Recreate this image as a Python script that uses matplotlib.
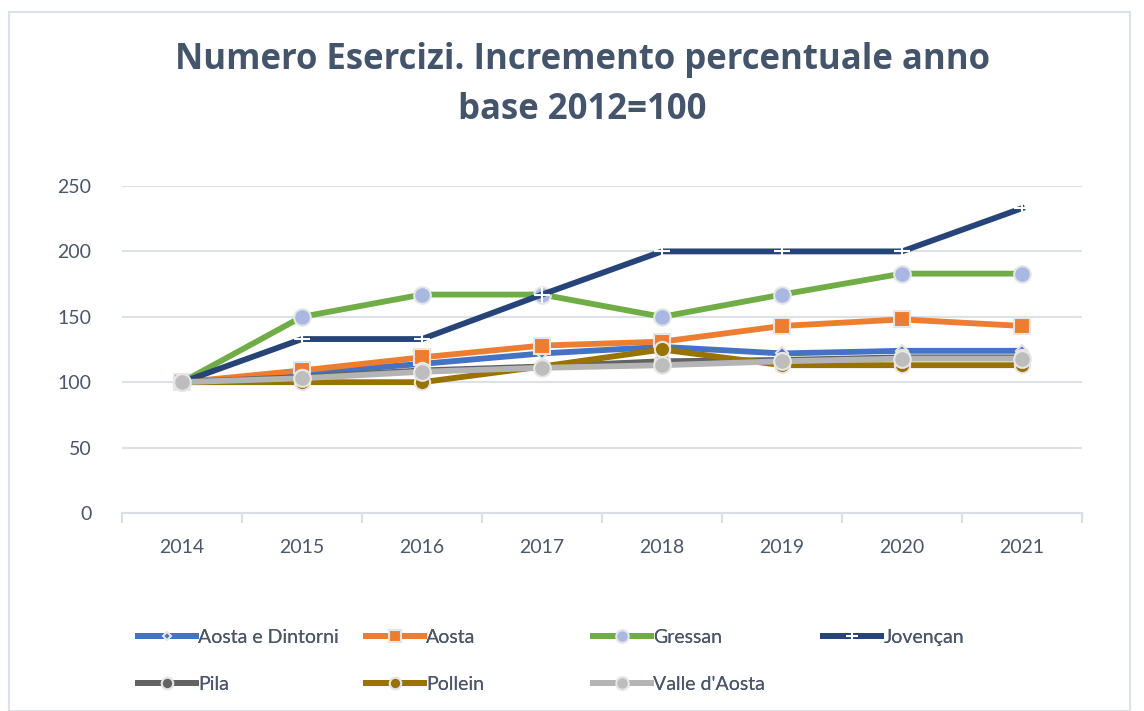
import numpy as np
import matplotlib.pyplot as plt
from matplotlib.patches import Rectangle

# Data
years = ['2014', '2015', '2016', '2017', '2018', '2019', '2020', '2021']
aosta_dintorni = [100, 107, 114, 122, 127, 122, 124, 124]
aosta = [100, 109, 119, 128, 131, 143, 148, 143]
gressan = [100, 150, 167, 167, 150, 167, 183, 183]
jovencan = [100, 133, 133, 167, 200, 200, 200, 233]
pila = [100, 104, 109, 112, 116, 117, 119, 119]
pollein = [100, 100, 100, 112, 125, 113, 113, 113]
valle_aosta = [100, 103, 108, 111, 113, 116, 118, 118]

series = [
    ("Aosta e Dintorni", aosta_dintorni, '#4472C4', 'D', '#4472C4', 6),
    ("Aosta", aosta, '#ED7D31', 's', '#ED7D31', 12),
    ("Gressan", gressan, '#70AD47', 'o', '#A9B8E3', 12),
    ("Jovençan", jovencan, '#264478', 'P', 'white', 11),
    ("Pila", pila, '#636363', 'o', '#636363', 11),
    ("Pollein", pollein, '#997300', 'o', '#997300', 11),
    ("Valle d'Aosta", valle_aosta, '#B4B4B4', 'o', '#BDBDBD', 12),
]

plt.rcParams['font.family'] = ['Lato', 'DejaVu Sans']
txt = '#4B5668'
fig = plt.figure(figsize=(11.44, 7.11), dpi=100)
fig.patches.append(Rectangle((9 / 1144, 0), 1121 / 1144, 1 - 12 / 711,
                             transform=fig.transFigure, fill=False,
                             edgecolor='#DCE1E8', lw=1.5))

ax = fig.add_axes([122 / 1144, 1 - 513 / 711, 960 / 1144, 327 / 711])
x = np.arange(len(years))
handles = []
for name, vals, col, mk, face, ms in series:
    if mk == 'P':
        h, = ax.plot(x, vals, color=col, lw=4.2, marker='+', markersize=ms,
                     markeredgecolor='white', markeredgewidth=1.5, label=name)
    else:
        h, = ax.plot(x, vals, color=col, lw=4.2, marker=mk, markersize=ms,
                     markerfacecolor=face, markeredgecolor='#E6E6E6',
                     markeredgewidth=1.5, label=name)
    handles.append(h)

ax.set_xlim(-0.5, 7.5)
ax.set_ylim(0, 250)
ax.set_yticks(np.arange(0, 251, 50))
ax.set_xticks(x)
ax.set_xticklabels(years)
ax.set_xticks(np.arange(-0.5, 8, 1), minor=True)
ax.tick_params(axis='x', which='major', length=0, pad=19, labelsize=14, labelcolor=txt)
ax.tick_params(axis='x', which='minor', length=7, width=1.5, color='#D9DEE5')
ax.tick_params(axis='y', length=0, pad=22, labelsize=14, labelcolor=txt)
ax.grid(axis='y', color='#DCE1E8', lw=1.5)
ax.set_axisbelow(True)
for s in ['top', 'right', 'left']:
    ax.spines[s].set_visible(False)
ax.spines['bottom'].set_color('#D9DEE5')
ax.spines['bottom'].set_linewidth(1.5)

fig.text(0.509, 1 - 85 / 711, 'Numero Esercizi. Incremento percentuale anno\nbase 2012=100',
         ha='center', va='center', fontsize=25, fontweight='bold', color='#44546A',
         linespacing=1.5, family='Open Sans')

# Legend: four columns with equal spacing like the original
cols = [[0, 4], [1, 5], [2, 6], [3]]
xs = [138, 366, 593, 823]
for c, xp in zip(cols, xs):
    leg = fig.legend([handles[i] for i in c], [series[i][0] for i in c],
                     loc='upper left', bbox_to_anchor=(xp / 1144, 1 - 629 / 711),
                     frameon=False, fontsize=14, handlelength=3.0, handletextpad=0.1,
                     labelspacing=1.55, borderaxespad=0, borderpad=0,
                     labelcolor=txt, markerscale=0.75)
    fig.add_artist(leg)

plt.savefig('out.png', dpi=100)
